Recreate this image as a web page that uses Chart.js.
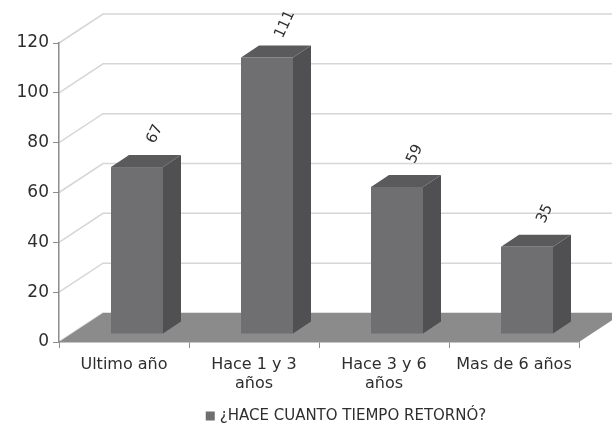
<!DOCTYPE html>
<html>
<head>
<meta charset="utf-8">
<script src="https://cdn.jsdelivr.net/npm/chart.js@4/dist/chart.umd.min.js"></script>
<style>
  html, body { margin: 0; padding: 0; background: #ffffff; }
  #wrap { width: 612px; height: 424px; position: relative; }
</style>
</head>
<body>
<div id="wrap"><canvas id="c" width="612" height="424"></canvas></div>
<script>
const categories = [['Ultimo año'], ['Hace 1 y 3', 'años'], ['Hace 3 y 6', 'años'], ['Mas de 6 años']];
const seriesName = '¿HACE CUANTO TIEMPO RETORNÓ?';
const values = [67, 111, 59, 35];
const yTicks = [0, 20, 40, 60, 80, 100, 120];

const FONT = '"DejaVu Sans", sans-serif';
const DEPTH = { dx: 44, dy: -29 };      // back wall offset
const BAR_SHIFT = { dx: 13, dy: -8 };   // bars sit mid-depth
const BAR_SIDE = { dx: 18, dy: -12 };   // bar side depth
const COL = { front: '#6f6f71', side: '#505052', top: '#5a5a5c', floor: '#8b8b8b', grid: '#d6d6d6', text: '#2e2e2e', axis: '#8c8c8c' };

const threeD = {
  id: 'threeD',
  beforeDraw(chart) {
    const { ctx, chartArea: a, scales: { y } } = chart;
    ctx.save();
    ctx.strokeStyle = COL.grid;
    ctx.lineWidth = 1.5;
    yTicks.forEach(v => {
      const py = y.getPixelForValue(v);
      ctx.beginPath();
      ctx.moveTo(a.left, py);
      ctx.lineTo(a.left + DEPTH.dx, py + DEPTH.dy);
      ctx.lineTo(chart.width, py + DEPTH.dy);
      ctx.stroke();
    });
    // floor
    const b = y.getPixelForValue(0);
    ctx.fillStyle = COL.floor;
    ctx.beginPath();
    ctx.moveTo(a.left, b);
    ctx.lineTo(a.right, b);
    ctx.lineTo(a.right + DEPTH.dx, b + DEPTH.dy);
    ctx.lineTo(a.left + DEPTH.dx, b + DEPTH.dy);
    ctx.closePath();
    ctx.fill();
    ctx.restore();
  },
  afterDatasetsDraw(chart) {
    const { ctx } = chart;
    const meta = chart.getDatasetMeta(0);
    ctx.save();
    meta.data.forEach((el, i) => {
      const w = el.width;
      const x0 = el.x - w / 2 + BAR_SHIFT.dx;
      const x1 = x0 + w;
      const top = el.y + BAR_SHIFT.dy;
      const bot = el.base + BAR_SHIFT.dy;
      // side
      ctx.fillStyle = COL.side;
      ctx.beginPath();
      ctx.moveTo(x1, top);
      ctx.lineTo(x1 + BAR_SIDE.dx, top + BAR_SIDE.dy);
      ctx.lineTo(x1 + BAR_SIDE.dx, bot + BAR_SIDE.dy);
      ctx.lineTo(x1, bot);
      ctx.closePath();
      ctx.fill();
      // top
      ctx.fillStyle = COL.top;
      ctx.beginPath();
      ctx.moveTo(x0, top);
      ctx.lineTo(x0 + BAR_SIDE.dx, top + BAR_SIDE.dy);
      ctx.lineTo(x1 + BAR_SIDE.dx, top + BAR_SIDE.dy);
      ctx.lineTo(x1, top);
      ctx.closePath();
      ctx.fill();
      // front
      ctx.fillStyle = COL.front;
      ctx.fillRect(x0, top, w, bot - top);
      // label
      ctx.save();
      ctx.translate(el.x + BAR_SHIFT.dx + 18, top - 33);
      ctx.rotate(-65 * Math.PI / 180);
      ctx.fillStyle = COL.text;
      ctx.font = '15px ' + FONT;
      ctx.textAlign = 'center';
      ctx.textBaseline = 'middle';
      ctx.fillText(String(values[i]), 0, 0);
      ctx.restore();
    });
    ctx.restore();
  },
  afterDraw(chart) {
    // legend (single series), placed as in the reference
    const { ctx } = chart;
    ctx.save();
    ctx.font = '15px ' + FONT;
    const tw = ctx.measureText(seriesName).width;
    const box = 9, gap = 5;
    const total = box + gap + tw;
    const cx = 346, cy = 416;
    const lx = cx - total / 2;
    ctx.fillStyle = COL.front;
    ctx.fillRect(lx, cy - box / 2, box, box);
    ctx.fillStyle = COL.text;
    ctx.textAlign = 'left';
    ctx.textBaseline = 'middle';
    ctx.fillText(seriesName, lx + box + gap, cy);
    ctx.restore();
  }
};

new Chart(document.getElementById('c'), {
  type: 'bar',
  data: {
    labels: categories,
    datasets: [{
      label: seriesName,
      data: values,
      backgroundColor: 'rgba(0,0,0,0)',
      borderWidth: 0,
      barPercentage: 0.4,
      categoryPercentage: 1.0
    }]
  },
  options: {
    responsive: false,
    animation: false,
    layout: { padding: { top: 43, right: 33, left: 0, bottom: 0 } },
    plugins: {
      tooltip: { enabled: false },
      legend: { display: false }
    },
    scales: {
      x: {
        grid: { display: true, drawOnChartArea: false, tickLength: 6, color: COL.axis, offset: true },
        border: { display: true, color: COL.axis, width: 1.5 },
        ticks: { color: COL.text, font: { family: FONT, size: 16 }, padding: 7, maxRotation: 0, autoSkip: false },
        afterFit: (s) => { s.height = 82; }
      },
      y: {
        min: 0, max: 120,
        afterBuildTicks: (s) => { s.ticks = yTicks.map(v => ({ value: v })); },
        grid: { display: true, drawOnChartArea: false, tickLength: 6, color: COL.axis },
        border: { display: true, color: COL.axis, width: 1.5 },
        ticks: { color: COL.text, font: { family: FONT, size: 17 }, padding: 4 },
        afterFit: (s) => { s.width = 59; }
      }
    }
  },
  plugins: [threeD]
});
</script>
</body>
</html>
